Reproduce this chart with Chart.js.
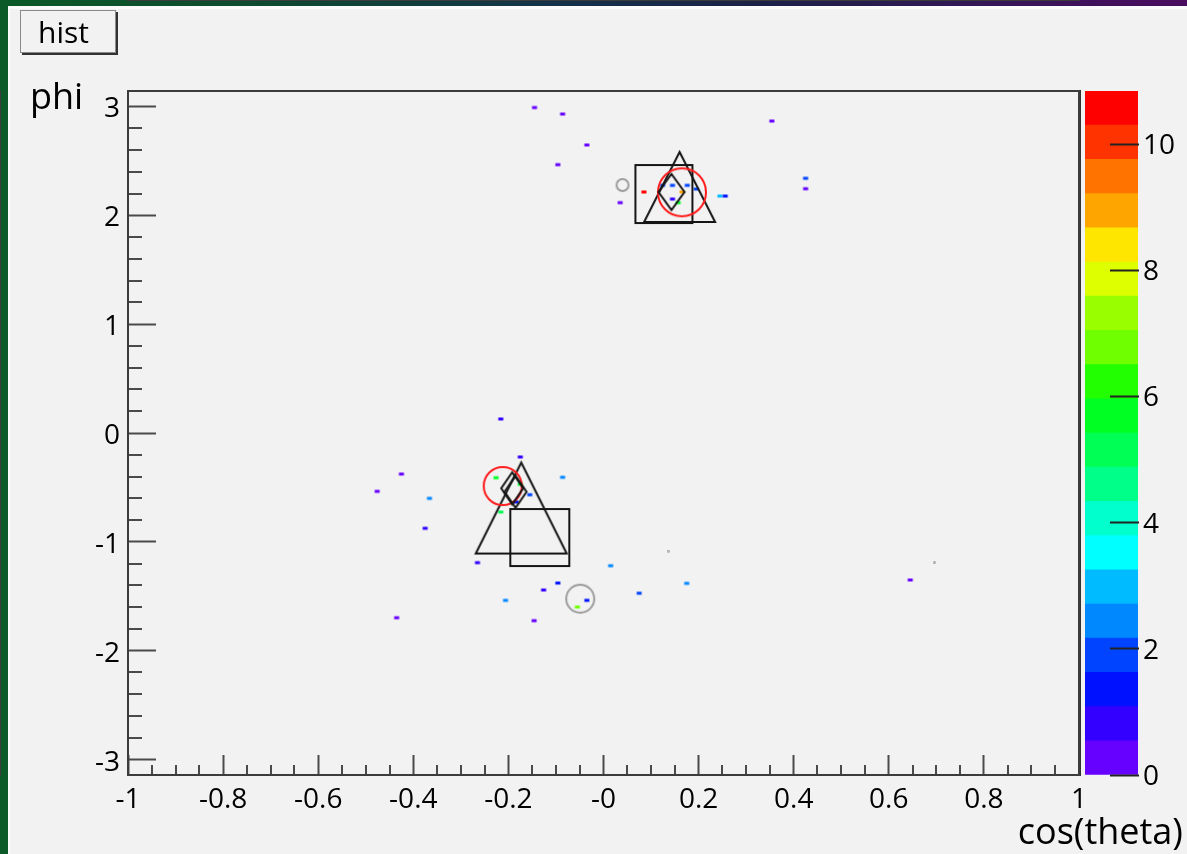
<!DOCTYPE html>
<html>
<head>
<meta charset="utf-8">
<title>hist</title>
<script src="https://cdn.jsdelivr.net/npm/chart.js@4.4.1/dist/chart.umd.min.js"></script>
<style>
  html, body { margin: 0; padding: 0; }
  body {
    width: 1187px; height: 854px; overflow: hidden; position: relative;
    background: linear-gradient(90deg, #0b5a27 0px, #0e4a30 260px, #14324a 560px, #1c2148 760px, #341857 980px, #4a0c5e 1187px);
  }
  #pad { position: absolute; left: 8px; top: 6px; right: 0; bottom: 0; background: #f2f2f2;
         border-top: 3px solid #fbfbfb; border-left: 2px solid #fbfbfb; }
  canvas { position: absolute; top: 0; }
  #main { left: 0; }
  #zaxis { left: 1080px; }
  .txt { position: absolute; font-family: 'Open Sans', 'Liberation Sans', sans-serif; color: #000; white-space: nowrap; line-height: normal; }
  #title { left: 20px; top: 10px; width: 77px; height: 41px; padding-left: 17px; border: 1px solid #8a8a8a;
           box-shadow: 2px 2px 0 #333; font-size: 30px; line-height: 41px; background: #f2f2f2; }
  #ytitle { left: 30px; top: 71px; font-size: 36px; }
  #xtitle { right: 4px; top: 806px; font-size: 36px; }
</style>
</head>
<body>
<div id="pad"></div>
<canvas id="main" width="1187" height="854"></canvas>
<canvas id="zaxis" width="107" height="854"></canvas>
<div class="txt" id="title">hist</div>
<div class="txt" id="ytitle">phi</div>
<div class="txt" id="xtitle">cos(theta)</div>
<script>
const FONT = "'Open Sans', 'Liberation Sans', sans-serif";

// axis ranges
const xRange = [-1, 1];
const yRange = [-Math.PI, Math.PI];
const zRange = [0, 10.84];

// tick positions and their labels
const xTickValues = [-1, -0.8, -0.6, -0.4, -0.2, 0, 0.2, 0.4, 0.6, 0.8, 1];
const xTickLabels = ['-1', '-0.8', '-0.6', '-0.4', '-0.2', '-0', '0.2', '0.4', '0.6', '0.8', '1'];
const yTickValues = [-3, -2, -1, 0, 1, 2, 3];
const yTickLabels = ['-3', '-2', '-1', '0', '1', '2', '3'];
const zTickValues = [0, 2, 4, 6, 8, 10];
const zTickLabels = ['0', '2', '4', '6', '8', '10'];

// filled bins: cos(theta), phi, content
const binX = [-0.145, -0.086, -0.035, -0.096, 0.354, 0.425, 0.425, 0.035, 0.085, 0.124,
              0.145, 0.176, 0.195, 0.165, 0.145, 0.157, 0.245, 0.256,
              -0.216, -0.175, -0.425, -0.476, -0.366, -0.375, -0.226, -0.086, -0.155, -0.175,
              -0.184, -0.216, -0.265, 0.015, -0.096, -0.126, -0.206, -0.035, -0.055, -0.435,
              -0.146, 0.075, 0.175, 0.645];
const binY = [2.990, 2.930, 2.646, 2.465, 2.866, 2.340, 2.244, 2.116, 2.214, 2.275,
              2.275, 2.275, 2.241, 2.214, 2.149, 2.116, 2.177, 2.177,
              0.129, -0.220, -0.377, -0.536, -0.600, -0.875, -0.411, -0.407, -0.567, -0.471,
              -0.634, -0.726, -1.191, -1.219, -1.378, -1.442, -1.537, -1.537, -1.598, -1.697,
              -1.724, -1.472, -1.381, -1.350];
const binZ = [0.3, 0.3, 0.3, 0.3, 0.3, 1.9, 0.3, 0.3, 10.8, 1.9,
              1.9, 1.9, 1.9, 9.0, 0.8, 5.7, 2.9, 1.4,
              0.8, 0.8, 0.3, 0.3, 2.4, 0.8, 5.7, 2.4, 1.9, 5.7,
              1.4, 5.2, 0.8, 2.4, 1.4, 0.8, 2.4, 1.4, 6.8, 0.3,
              0.3, 1.9, 2.4, 0.3];

// overlay markers
const squareX = [0.127, -0.134];
const squareY = [2.195, -0.960];
const triangleX = [0.160, -0.173];
const triangleY = [2.260, -0.689];
const diamondX = [0.143, -0.192, -0.185];
const diamondY = [2.214, -0.508, -0.540];
const redCircleX = [0.165, -0.212];
const redCircleY = [2.211, -0.487];
const greyCircleX = [0.040, -0.049];
const greyCircleY = [2.278, -1.522];
const greyDotX = [0.136, 0.696];
const greyDotY = [-1.084, -1.194];

// colour contours, lowest first
const palette = ['#6600ff', '#3300ff', '#0011ff', '#0044ff', '#0088ff', '#00bbff', '#00ffff',
                 '#00ffcc', '#00ff88', '#00ff55', '#00ff22', '#22ff00', '#70ff00', '#99ff00',
                 '#ddff00', '#ffe600', '#ffa500', '#ff7300', '#ff3300', '#ff0000'];

// marker appearance: [width, height] in pixels per point
const markerStyle = {
  square:     { size: [[57, 58], [59, 57]], color: '#151515', lw: 2 },
  triangle:   { size: [[71, 70], [91, 91]], color: '#151515', lw: 2 },
  diamond:    { size: [[26, 36], [22, 32], [22, 32]], color: '#151515', lw: 2 },
  redCircle:  { size: [[48, 48], [38, 38]], color: '#ff1c1c', lw: 2 },
  greyCircle: { size: [[12, 12], [28, 28]], color: '#9c9c9c', lw: 2 }
};

function bandOf(v) {
  const i = Math.floor((v - zRange[0]) / (zRange[1] - zRange[0]) * palette.length);
  return Math.max(0, Math.min(palette.length - 1, i));
}

function sprite(w, h, paint) {
  const c = document.createElement('canvas');
  c.width = w; c.height = h;
  paint(c.getContext('2d'), w, h);
  return c;
}

// each filled bin is a small soft-edged cell
const binSprites = palette.map(col => sprite(8, 6, g => {
  g.filter = 'blur(0.45px)';
  g.fillStyle = col;
  g.fillRect(1.5, 1.5, 5, 3);
}));
const dotSprite = sprite(3, 3, g => { g.fillStyle = '#a8a8a8'; g.beginPath(); g.arc(1.5, 1.5, 1.4, 0, Math.PI * 2); g.fill(); });

const shapes = {
  square: (g, a, b) => g.rect(-a, -b, 2 * a, 2 * b),
  triangle: (g, a, b) => { g.moveTo(0, -b); g.lineTo(a, b); g.lineTo(-a, b); g.closePath(); },
  diamond: (g, a, b) => { g.moveTo(0, -b); g.lineTo(a, 0); g.lineTo(0, b); g.lineTo(-a, 0); g.closePath(); },
  circle: (g, a) => g.arc(0, 0, a, 0, Math.PI * 2)
};

function outline(w, h, color, lw, path) {
  const m = Math.ceil(lw) + 2;
  return sprite(Math.ceil(w) + 2 * m, Math.ceil(h) + 2 * m, (g, W, H) => {
    g.translate(W / 2, H / 2);
    g.strokeStyle = color; g.lineWidth = lw; g.lineJoin = 'miter';
    g.beginPath(); path(g, w / 2, h / 2); g.stroke();
  });
}

function markerSet(label, xs, ys, shape, style, order) {
  const sprites = style.size.map(([w, h]) => outline(w, h, style.color, style.lw, shapes[shape]));
  return {
    label, order,
    data: xs.map((x, i) => ({ x, y: ys[i] })),
    pointStyle: c => sprites[c.dataIndex] || sprites[0],
    pointRadius: 4
  };
}

// minor ticks and the closed frame around the plot area
const frameAndMinors = {
  id: 'frameAndMinors',
  afterDraw(chart) {
    const { ctx, chartArea: a, scales: { x, y } } = chart;
    ctx.save();
    ctx.strokeStyle = '#4a4a4a';
    ctx.lineWidth = 2;
    ctx.beginPath();
    for (let i = -20; i <= 20; i++) {
      if (i % 4 === 0) continue;
      const px = Math.round(x.getPixelForValue(i * 0.05));
      ctx.moveTo(px, a.bottom); ctx.lineTo(px, a.bottom - 10);
    }
    for (let j = -15; j <= 15; j++) {
      if (j % 5 === 0) continue;
      const py = Math.round(y.getPixelForValue(j * 0.2));
      ctx.moveTo(a.left, py); ctx.lineTo(a.left + 14, py);
    }
    ctx.stroke();
    ctx.strokeStyle = '#3c3c3c';
    ctx.strokeRect(Math.round(a.left), Math.round(a.top), Math.round(a.right - a.left), Math.round(a.bottom - a.top));
    ctx.restore();
  }
};

const axisFont = { family: FONT, size: 28 };

new Chart(document.getElementById('main'), {
  type: 'scatter',
  data: {
    datasets: [
      markerSet('diamond', diamondX, diamondY, 'diamond', markerStyle.diamond, 0),
      markerSet('circle', redCircleX, redCircleY, 'circle', markerStyle.redCircle, 1),
      markerSet('open circle', greyCircleX, greyCircleY, 'circle', markerStyle.greyCircle, 2),
      markerSet('triangle', triangleX, triangleY, 'triangle', markerStyle.triangle, 3),
      markerSet('square', squareX, squareY, 'square', markerStyle.square, 4),
      { label: 'dots', order: 5, data: greyDotX.map((x, i) => ({ x, y: greyDotY[i] })), pointStyle: dotSprite, pointRadius: 2 },
      { label: 'hist', order: 6, data: binX.map((x, i) => ({ x, y: binY[i], z: binZ[i] })),
        pointStyle: c => (c.raw ? binSprites[bandOf(c.raw.z)] : binSprites[0]), pointRadius: 3 }
    ]
  },
  options: {
    responsive: false, animation: false, events: [], devicePixelRatio: 1,
    layout: { padding: { top: 91, right: 108, bottom: 0, left: 0 } },
    plugins: { legend: { display: false }, tooltip: { enabled: false } },
    scales: {
      x: {
        type: 'linear', min: xRange[0], max: xRange[1],
        afterBuildTicks: s => { s.ticks = xTickValues.map(v => ({ value: v })); },
        afterFit: s => { s.height = 79; },
        ticks: { callback: v => xTickLabels[xTickValues.indexOf(v)], font: axisFont, color: '#000',
                 padding: 28, autoSkip: false, maxRotation: 0 },
        grid: { drawOnChartArea: false, tickLength: -20, tickWidth: 2, tickColor: '#4a4a4a', z: 1 },
        border: { color: '#3c3c3c', width: 2 }
      },
      y: {
        type: 'linear', min: yRange[0], max: yRange[1],
        afterBuildTicks: s => { s.ticks = yTickValues.map(v => ({ value: v })); },
        afterFit: s => { s.width = 128; },
        ticks: { callback: v => yTickLabels[yTickValues.indexOf(v)], font: axisFont, color: '#000',
                 padding: 36, labelOffset: 3, autoSkip: false },
        grid: { drawOnChartArea: false, tickLength: -28, tickWidth: 2, tickColor: '#4a4a4a', z: 1 },
        border: { color: '#3c3c3c', width: 2 }
      }
    }
  },
  plugins: [frameAndMinors]
});

// colour scale beside the plot
new Chart(document.getElementById('zaxis'), {
  type: 'bar',
  data: {
    labels: [''],
    datasets: palette.map(col => ({
      data: [(zRange[1] - zRange[0]) / palette.length],
      backgroundColor: col, borderWidth: 0, barPercentage: 1, categoryPercentage: 1
    }))
  },
  options: {
    responsive: false, animation: false, events: [], devicePixelRatio: 1,
    layout: { padding: { top: 91, right: 0, bottom: 79, left: 5 } },
    plugins: { legend: { display: false }, tooltip: { enabled: false } },
    scales: {
      x: { stacked: true, display: false },
      y: {
        stacked: true, position: 'right', min: zRange[0], max: zRange[1],
        afterBuildTicks: s => { s.ticks = zTickValues.map(v => ({ value: v })); },
        afterFit: s => { s.width = 49; },
        ticks: { callback: v => zTickLabels[zTickValues.indexOf(v)], font: axisFont, color: '#000',
                 padding: 33, labelOffset: 2, autoSkip: false },
        grid: { drawOnChartArea: false, tickLength: -28, tickWidth: 2, tickColor: '#222', z: 1 },
        border: { color: '#333', width: 2 }
      }
    }
  }
});
</script>
</body>
</html>
